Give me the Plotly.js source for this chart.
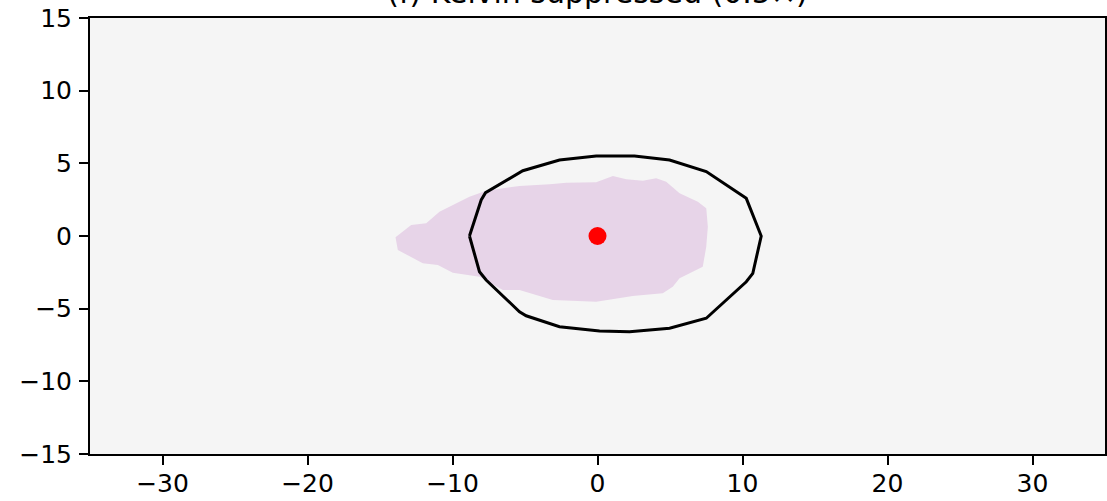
<!DOCTYPE html>
<html>
<head>
<meta charset="utf-8">
<script src="https://cdn.plot.ly/plotly-3.0.1.min.js"></script>
<style>html,body{margin:0;padding:0;background:#fff;}#chart{width:1107px;height:501px;}</style>
</head>
<body>
<div id="chart"></div>
<script>
// Title
const chartTitle = "(f) Kelvin suppressed (0.5×)";

// Black contour outline (x, y)
const contourX = [-8.83, -8.02, -7.72, -5.15, -2.62, -0.09, 2.55, 4.97, 7.50, 10.26, 11.29,
                  10.71, 10.26, 7.50, 4.97, 2.21, 0.14, -2.62, -4.92, -5.38, -7.68, -8.14, -8.83];
const contourY = [0.00, 2.48, 2.98, 4.49, 5.23, 5.51, 5.51, 5.23, 4.43, 2.59, 0.00,
                  -2.57, -3.15, -5.66, -6.35, -6.59, -6.54, -6.24, -5.49, -5.21, -3.03, -2.46, 0.00];

// Shaded region outline (x, y)
const regionX = [-13.93, -13.77, -12.05, -11.01, -9.98, -8.14, -6.53, -5.38, -3.08, -0.09, 2.43,
                 4.50, 5.19, 5.66, 7.26, 7.50, 7.61, 7.50, 6.92, 5.66, 4.74, 4.05, 3.12, 1.98,
                 1.06, -0.09, -2.16, -3.31, -5.38, -7.68, -8.83, -9.98, -10.90, -11.81, -12.85];
const regionY = [-0.09, -0.96, -1.88, -2.00, -2.53, -2.80, -3.72, -3.72, -4.40, -4.52, -4.13,
                 -3.94, -3.49, -2.91, -2.11, -0.74, 0.64, 1.91, 2.36, 2.94, 3.74, 3.97, 3.81, 3.90,
                 4.13, 3.70, 3.67, 3.56, 3.44, 3.12, 2.70, 2.13, 1.67, 0.87, 0.76];

// Centre point
const centreX = [0];
const centreY = [0];

// Axis ticks
const xTicks = [-30, -20, -10, 0, 10, 20, 30];
const yTicks = [-15, -10, -5, 0, 5, 10, 15];
const xRange = [-35, 35];
const yRange = [-15, 15];

const traces = [
  {x: regionX, y: regionY, type: 'scatter', mode: 'lines', fill: 'toself',
   fillcolor: '#e7d4e8', line: {width: 0, color: '#e7d4e8'}, hoverinfo: 'skip', showlegend: false},
  {x: contourX, y: contourY, type: 'scatter', mode: 'lines',
   line: {color: '#000000', width: 3}, showlegend: false},
  {x: centreX, y: centreY, type: 'scatter', mode: 'markers',
   marker: {color: '#ff0000', size: 18}, showlegend: false}
];

const axisCommon = {
  showgrid: false, zeroline: false, showline: true, mirror: true,
  linecolor: '#000', linewidth: 2, ticks: 'outside', ticklen: 9, tickwidth: 2,
  tickcolor: '#000', tickfont: {family: 'DejaVu Sans', size: 25, color: '#000'}
};

const layout = {
  width: 1107, height: 501,
  margin: {l: 90, r: 2, t: 18, b: 47},
  paper_bgcolor: '#ffffff', plot_bgcolor: '#f5f5f5',
  title: {text: chartTitle, font: {family: 'DejaVu Sans', size: 30, color: '#000'},
          x: 0.5, xref: 'paper', xanchor: 'center', y: 1.0, yref: 'container', yanchor: 'bottom', pad: {b: -3}},
  xaxis: Object.assign({}, axisCommon, {range: xRange, tickvals: xTicks, ticklabelstandoff: -3}),
  yaxis: Object.assign({}, axisCommon, {range: yRange, tickvals: yTicks, ticklabelstandoff: 2}),
  showlegend: false
};

Plotly.newPlot('chart', traces, layout, {staticPlot: true, displayModeBar: false});
</script>
</body>
</html>
